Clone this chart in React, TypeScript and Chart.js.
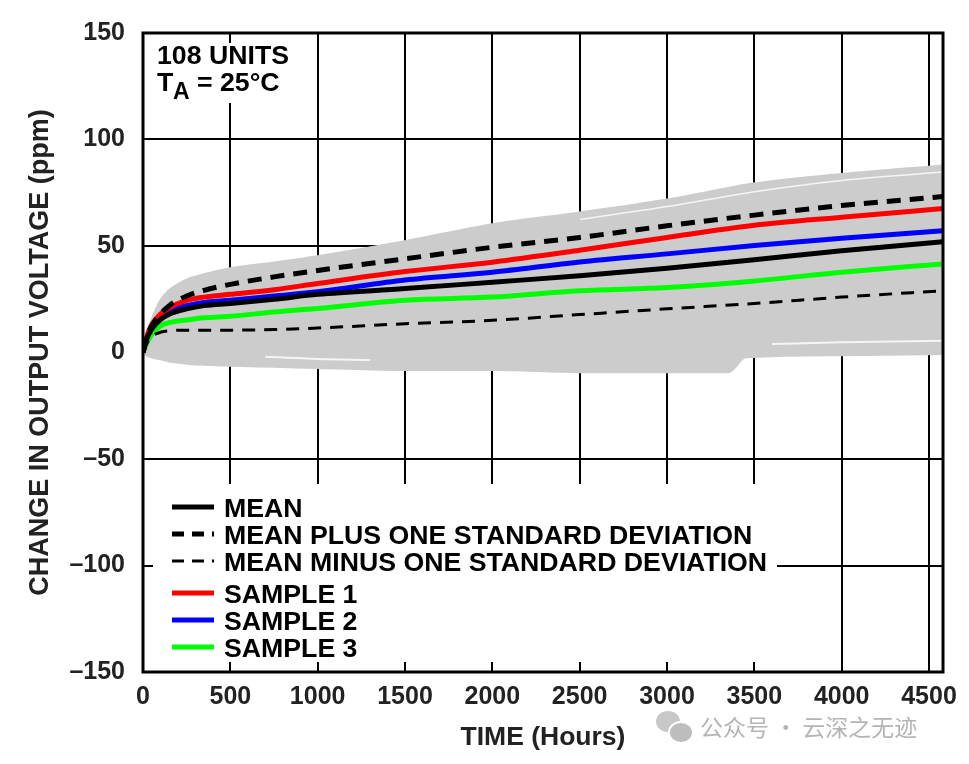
import { useEffect, useRef } from 'react'
import { Chart, registerables } from 'chart.js'

Chart.register(...registerables)

const FONT = '"Liberation Sans", Arial, Helvetica, sans-serif'

// time axis shared by the mean / sigma / sample traces
const HOURS = [0, 20, 50, 100, 150, 250, 350, 500, 750, 1000, 1500, 2000, 2500, 3000, 3500, 4000, 4580]

const MEAN_PPM = [0, 6, 11, 15.5, 18, 20.5, 22, 23, 25, 27.3, 30, 33, 36, 39.5, 43.5, 47.8, 52]
const PLUS_SD_PPM = [0, 7, 12.5, 18, 22, 26.5, 29.2, 32, 35.5, 38.5, 44, 49.4, 54, 59.5, 64.5, 69, 73.2]
const MINUS_SD_PPM = [0, 4, 7.5, 9.5, 10.2, 10.5, 10.5, 10.5, 10.8, 11.5, 13.5, 15.1, 17.8, 20.5, 23, 26, 29]
const SAMPLE1_PPM = [0, 7, 13, 18, 21, 24.5, 26, 27.3, 29.5, 32.4, 38, 42.4, 48, 54, 59.7, 63.5, 67.6]
const SAMPLE2_PPM = [0, 6.5, 12, 16.5, 19.5, 22, 23.5, 24.5, 26.5, 28.5, 34, 37.7, 42.5, 46.3, 50.2, 53.6, 57.2]
const SAMPLE3_PPM = [0, 4, 8.5, 12.5, 14, 15.3, 16.3, 17, 19, 20.7, 24.5, 26, 29, 30.5, 33.6, 37.7, 41.6]

// envelope of the 108 unit traces (grey band)
const BAND_HOURS = [0, 20, 50, 100, 150, 250, 350, 500, 750, 1000, 1500, 2000, 2500, 3000, 3350, 3450, 4000, 4580]
const BAND_TOP_PPM = [0, 8, 15, 24, 29, 34, 36.5, 39.3, 42, 45, 52, 60, 65.5, 71.6, 77, 78.5, 83.6, 87.6]
const BAND_BOTTOM_PPM = [0, -1, -2, -3, -4, -5, -5.5, -6, -6.5, -7, -8, -8, -9, -9, -9, -2, -1, -0.5]

// light gaps between individual unit traces
const GAP_A_HOURS = [2500, 3000, 3500, 4000, 4580]
const GAP_A_PPM = [62.5, 68.5, 75.5, 80.8, 84.7]
const GAP_B_HOURS = [700, 1000, 1300]
const GAP_B_PPM = [-2, -3, -3.5]
const GAP_C_HOURS = [3600, 4000, 4580]
const GAP_C_PPM = [4, 4.8, 5.5]

const X_TICKS = [0, 500, 1000, 1500, 2000, 2500, 3000, 3500, 4000, 4500]
const X_MAX = 4580
const Y_TICK_STEP = 50

function toPoints(hours: number[], ppm: number[]) {
  return hours.map((x, i) => ({ x, y: ppm[i] }))
}

function formatTick(value: number) {
  return value < 0 ? `\u2013${Math.abs(value)}` : String(value)
}

const decorPlugin = {
  id: 'decor',
  beforeDatasetsDraw(chart: any) {
    const { ctx, chartArea: a, scales } = chart
    ctx.save()
    // white boxes behind the note and the legend hide the grid
    ctx.fillStyle = '#ffffff'
    ctx.fillRect(a.left + 2, a.top + 2, 157, 68)
    ctx.fillRect(a.left + 2, a.bottom - 188, 632, 186)

    // inward tick marks on all four sides
    ctx.strokeStyle = '#000000'
    ctx.lineWidth = 2
    ctx.beginPath()
    for (const t of scales.x.ticks) {
      const px = Math.round(scales.x.getPixelForValue(t.value))
      ctx.moveTo(px, a.bottom)
      ctx.lineTo(px, a.bottom - 10)
      ctx.moveTo(px, a.top)
      ctx.lineTo(px, a.top + 10)
    }
    for (const t of scales.y.ticks) {
      const py = Math.round(scales.y.getPixelForValue(t.value))
      ctx.moveTo(a.left, py)
      ctx.lineTo(a.left + 10, py)
      ctx.moveTo(a.right, py)
      ctx.lineTo(a.right - 10, py)
    }
    ctx.stroke()
    ctx.restore()
  },
  afterDatasetsDraw(chart: any) {
    const { ctx, chartArea: a } = chart
    ctx.save()

    // frame
    ctx.strokeStyle = '#000000'
    ctx.lineWidth = 3
    ctx.strokeRect(a.left, a.top, a.right - a.left, a.bottom - a.top)

    // note
    ctx.fillStyle = '#000000'
    ctx.textBaseline = 'alphabetic'
    ctx.textAlign = 'left'
    ctx.font = `bold 26.7px ${FONT}`
    ctx.fillText('108 UNITS', a.left + 14, a.top + 31)
    ctx.fillText('T', a.left + 14, a.top + 58)
    ctx.font = `bold 23px ${FONT}`
    ctx.fillText('A', a.left + 30, a.top + 66)
    ctx.font = `bold 26.7px ${FONT}`
    ctx.fillText('= 25°C', a.left + 54, a.top + 58)

    // legend, built from the labelled datasets
    const items = chart.data.datasets.filter((d: any) => d.label)
    let y = a.bottom - 165
    items.forEach((d: any, i: number) => {
      if (i === 3) y += 5
      ctx.beginPath()
      ctx.strokeStyle = d.borderColor
      ctx.lineWidth = d.borderWidth
      ctx.setLineDash(d.borderDash ? [12, 8] : [])
      ctx.moveTo(a.left + 29, y)
      ctx.lineTo(a.left + 71, y)
      ctx.stroke()
      ctx.setLineDash([])
      ctx.fillStyle = '#000000'
      ctx.font = `bold 26.7px ${FONT}`
      ctx.fillText(d.label, a.left + 81, y + 9.5)
      y += 27
    })
    ctx.restore()
  },
}

function App() {
  const canvasRef = useRef<HTMLCanvasElement | null>(null)
  const chartRef = useRef<Chart | null>(null)

  useEffect(() => {
    if (!canvasRef.current) {
      return undefined
    }

    chartRef.current?.destroy()

    const line = {
      pointRadius: 0,
      cubicInterpolationMode: 'monotone' as const,
      fill: false,
    }

    const chart = new Chart(canvasRef.current, {
      type: 'line',
      data: {
        datasets: [
          { ...line, label: 'MEAN', data: toPoints(HOURS, MEAN_PPM), borderColor: '#000000', borderWidth: 5 },
          {
            ...line,
            label: 'MEAN PLUS ONE STANDARD DEVIATION',
            data: toPoints(HOURS, PLUS_SD_PPM),
            borderColor: '#000000',
            borderWidth: 5,
            borderDash: [14, 9],
          },
          {
            ...line,
            label: 'MEAN MINUS ONE STANDARD DEVIATION',
            data: toPoints(HOURS, MINUS_SD_PPM),
            borderColor: '#000000',
            borderWidth: 3,
            borderDash: [13, 9],
          },
          { ...line, label: 'SAMPLE 1', data: toPoints(HOURS, SAMPLE1_PPM), borderColor: '#ff0000', borderWidth: 5 },
          { ...line, label: 'SAMPLE 2', data: toPoints(HOURS, SAMPLE2_PPM), borderColor: '#0000ff', borderWidth: 5 },
          { ...line, label: 'SAMPLE 3', data: toPoints(HOURS, SAMPLE3_PPM), borderColor: '#00ff00', borderWidth: 5 },
          { ...line, label: '', data: toPoints(GAP_A_HOURS, GAP_A_PPM), borderColor: 'rgba(255,255,255,0.8)', borderWidth: 1.5 },
          { ...line, label: '', data: toPoints(GAP_B_HOURS, GAP_B_PPM), borderColor: 'rgba(255,255,255,0.8)', borderWidth: 2 },
          { ...line, label: '', data: toPoints(GAP_C_HOURS, GAP_C_PPM), borderColor: 'rgba(255,255,255,0.8)', borderWidth: 2 },
          {
            ...line,
            label: '',
            data: toPoints(BAND_HOURS, BAND_TOP_PPM),
            borderColor: '#cccccc',
            borderWidth: 3,
            backgroundColor: '#cccccc',
            fill: '+1',
          },
          {
            ...line,
            label: '',
            data: toPoints(BAND_HOURS, BAND_BOTTOM_PPM),
            borderColor: '#cccccc',
            borderWidth: 3,
          },
        ],
      },
      options: {
        animation: false,
        responsive: true,
        maintainAspectRatio: false,
        events: [],
        layout: {
          padding: { top: 30, right: 26, left: 0, bottom: 0 },
        },
        plugins: {
          legend: { display: false },
          tooltip: { enabled: false },
        },
        scales: {
          x: {
            type: 'linear',
            min: 0,
            max: X_MAX,
            afterFit: (scale: any) => {
              scale.height = 92
            },
            afterBuildTicks: (scale: any) => {
              scale.ticks = X_TICKS.map((value) => ({ value }))
            },
            ticks: {
              autoSkip: false,
              maxRotation: 0,
              padding: 10,
              color: '#222222',
              font: { family: FONT, size: 25, weight: 'bold' },
              callback: (value: any) => formatTick(Number(value)),
            },
            grid: { color: '#000000', lineWidth: 2, drawTicks: false },
            border: { display: false },
            title: {
              display: true,
              text: 'TIME (Hours)',
              color: '#222222',
              font: { family: FONT, size: 26.5, weight: 'bold' },
              padding: { top: 4, bottom: 10 },
            },
          },
          y: {
            type: 'linear',
            min: -150,
            max: 150,
            afterFit: (scale: any) => {
              scale.width = 143
            },
            ticks: {
              stepSize: Y_TICK_STEP,
              padding: 18,
              color: '#222222',
              font: { family: FONT, size: 25, weight: 'bold' },
              callback: (value: any) => formatTick(Number(value)),
            },
            grid: { color: '#000000', lineWidth: 2, drawTicks: false },
            border: { display: false },
            title: {
              display: true,
              text: 'CHANGE IN OUTPUT VOLTAGE (ppm)',
              color: '#222222',
              font: { family: FONT, size: 27, weight: 'bold' },
              padding: { top: 24, bottom: 0 },
            },
          },
        },
      } as any,
      plugins: [decorPlugin],
    })

    chartRef.current = chart

    return () => {
      chart.destroy()
      chartRef.current = null
    }
  }, [])

  return (
    <div
      style={{
        position: 'fixed',
        left: 0,
        top: 0,
        width: 969,
        height: 764,
        background: '#ffffff',
      }}
    >
      <canvas ref={canvasRef} />
      <div style={{ position: 'absolute', left: 656, top: 711, width: 36, height: 32 }}>
        <div
          style={{
            position: 'absolute',
            left: 0,
            top: 0,
            width: 24,
            height: 21,
            borderRadius: '50%',
            background: '#c8c8c8',
          }}
        />
        <div
          style={{
            position: 'absolute',
            left: 12,
            top: 10,
            width: 22,
            height: 19,
            borderRadius: '50%',
            background: '#bdbdbd',
            border: '2px solid #ffffff',
          }}
        />
      </div>
      <div
        style={{
          position: 'absolute',
          left: 700,
          top: 710,
          fontFamily: '"Noto Sans CJK SC", sans-serif',
          fontSize: 23,
          color: '#b4b4b4',
          whiteSpace: 'nowrap',
          lineHeight: '32px',
        }}
      >
        公众号 · 云深之无迹
      </div>
    </div>
  )
}

export default App
